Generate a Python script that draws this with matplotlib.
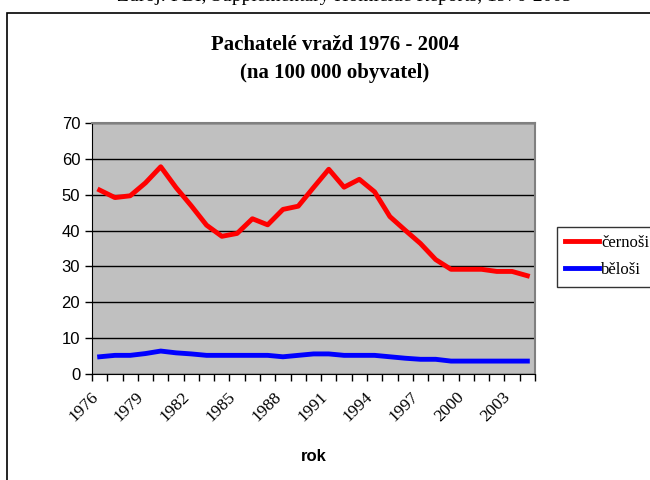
import matplotlib.pyplot as plt
import matplotlib.transforms as mtransforms
from matplotlib.lines import Line2D
from matplotlib.patches import Rectangle

# data
years = list(range(1976, 2005))
cernosi = [51.3, 49.2, 49.7, 53.3, 57.8, 52.0, 46.9, 41.5, 38.4, 39.2,
           43.3, 41.6, 45.9, 46.8, 52.0, 57.1, 52.1, 54.3, 50.8, 43.9,
           40.1, 36.4, 31.9, 29.2, 29.2, 29.2, 28.6, 28.6, 27.4]
belosi = [4.8, 5.2, 5.2, 5.7, 6.4, 5.9, 5.6, 5.2, 5.2, 5.2,
          5.2, 5.2, 4.8, 5.2, 5.6, 5.6, 5.2, 5.2, 5.2, 4.8,
          4.4, 4.1, 4.1, 3.6, 3.6, 3.6, 3.6, 3.6, 3.6]
labels = ["černoši", "běloši"]

fig = plt.figure(figsize=(6.5, 4.8), dpi=100)
ax = fig.add_axes([92 / 650, 1 - 374 / 480, 443 / 650, 251 / 480])

# partially cut-off source line at the very top
fig.text(0.53, 1 - 1 / 480, "Zdroj: FBI, Supplementary Homicide Reports, 1976-2005",
         ha="center", va="baseline", fontsize=14, family="Liberation Serif")

# outer chart frame (right/bottom edges are cut off)
fig.add_artist(Rectangle((6.5 / 650, -0.1), 1.2, 1 - 12.5 / 480 + 0.1,
                         transform=fig.transFigure, fill=False,
                         edgecolor="black", linewidth=1.2))

x = list(range(len(years)))
ax.set_facecolor("#C0C0C0")
ax.plot(x, cernosi, color="#FF0000", linewidth=3.5, label=labels[0], zorder=3)
ax.plot(x, belosi, color="#0000FF", linewidth=3.5, label=labels[1], zorder=3)

ax.set_xlim(-0.5, len(years) - 0.5)
ax.set_ylim(0, 70)
ax.set_yticks(range(0, 71, 10))
ax.yaxis.grid(True, color="black", linewidth=1)
ax.set_axisbelow(True)
ax.tick_params(axis="y", direction="out", length=5, labelsize=12, width=1)

ax.set_xticks([i - 0.5 for i in range(len(years) + 1)], minor=True)
ax.set_xticks(x[::3])
ax.set_xticklabels([str(y) for y in years[::3]])
ax.tick_params(axis="x", which="major", length=0, pad=15)
ax.tick_params(axis="x", which="minor", length=5, direction="out", width=1)

shift = mtransforms.ScaledTranslation(-4 / 100, 0, fig.dpi_scale_trans)
for t in ax.get_xticklabels():
    t.set_rotation(45)
    t.set_rotation_mode("anchor")
    t.set_ha("right")
    t.set_va("center")
    t.set_family("Liberation Serif")
    t.set_fontsize(12.5)
    t.set_transform(t.get_transform() + shift)
for t in ax.get_yticklabels():
    t.set_family("Liberation Sans")

for s in ["top", "right"]:
    ax.spines[s].set_color("#808080")
    ax.spines[s].set_linewidth(1.5)
for s in ["left", "bottom"]:
    ax.spines[s].set_color("black")

ax.set_xlabel("rok", fontsize=12, fontweight="bold", family="Liberation Sans", labelpad=17)

fig.text(0.515, 1 - 59 / 480, "Pachatelé vražd 1976 - 2004\n(na 100 000 obyvatel)",
         ha="center", va="center", fontsize=15, fontweight="bold",
         family="Liberation Serif", linespacing=1.55)

handles = [Line2D([], [], color="#FF0000", linewidth=3.5),
           Line2D([], [], color="#0000FF", linewidth=3.5)]
leg = fig.legend(handles, labels, loc="upper left", bbox_to_anchor=(557 / 650, 1 - 227 / 480),
                 borderaxespad=0, frameon=True, fancybox=False, edgecolor="black",
                 handlelength=2.0, handletextpad=0.15, borderpad=0.5, labelspacing=0.65,
                 prop={"family": "Liberation Serif", "size": 12})
leg.get_frame().set_linewidth(1)

fig.savefig("out.png", dpi=100)
